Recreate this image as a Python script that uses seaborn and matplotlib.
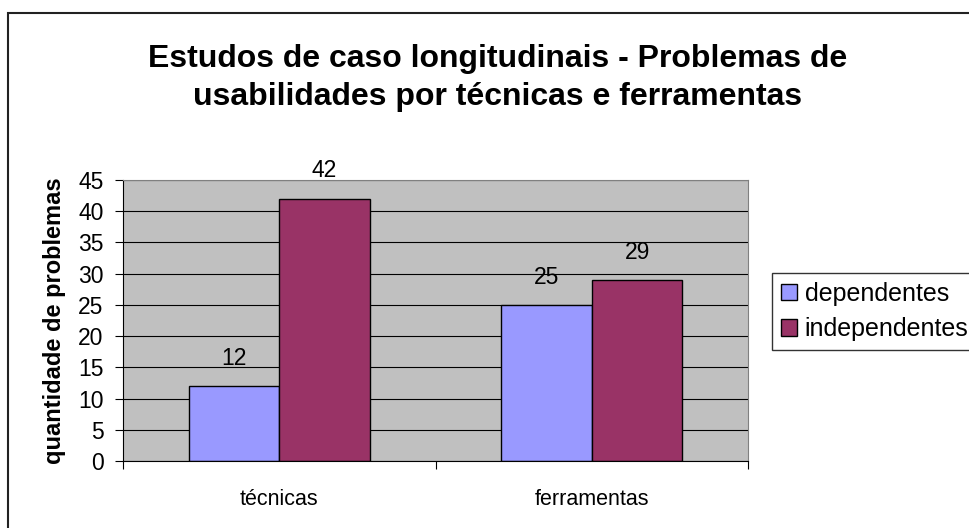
import pandas as pd
import matplotlib.pyplot as plt
import matplotlib.patches as mpatches
import seaborn as sns

# ── Data ─────────────────────────────────────────────────────────────────────
categorias = ['técnicas', 'ferramentas']
grupos = ['dependentes', 'independentes']
dependentes = [12, 25]
independentes = [42, 29]
y_ticks = [0, 5, 10, 15, 20, 25, 30, 35, 40, 45]

titulo = 'Estudos de caso longitudinais - Problemas de\nusabilidades por técnicas e ferramentas'
y_label = 'quantidade de problemas'

df = pd.DataFrame({
    'categoria': categorias * 2,
    'grupo': [grupos[0]] * len(categorias) + [grupos[1]] * len(categorias),
    'quantidade': dependentes + independentes,
})

# ── Styling ──────────────────────────────────────────────────────────────────
sns.set_style("white")
plt.rcParams.update({
    'font.family': ['Liberation Sans', 'DejaVu Sans'],
    'text.color': 'black',
    'axes.labelcolor': 'black',
    'xtick.color': 'black',
    'ytick.color': 'black',
})

CORES = ['#9999FF', '#993366']

fig = plt.figure(figsize=(9.69, 5.28), dpi=100)
# outer chart border (only left/top edge visible in the crop)
fig.patches.append(mpatches.Rectangle((8 / 969, -0.05), 1.1, 1 - 13 / 528 + 0.05,
                                      transform=fig.transFigure, fill=False,
                                      edgecolor='#222222', linewidth=1.5))

ax = fig.add_axes([123 / 969, 1 - 461 / 528, (748 - 123) / 969, (461 - 180) / 528])
ax.set_facecolor('#C0C0C0')

sns.barplot(data=df, x='categoria', y='quantidade', hue='grupo', order=categorias,
            hue_order=grupos, palette=CORES, saturation=1, width=0.58, gap=0,
            edgecolor='black', linewidth=1, ax=ax, legend=True)

# value labels
for cont in ax.containers:
    for bar in cont:
        h = bar.get_height()
        ax.annotate(f'{h:.0f}', (bar.get_x() + bar.get_width() / 2, h),
                    xytext=(0, 20), textcoords='offset points',
                    ha='center', va='center', fontsize=16.5)

ax.set_xlim(-0.5, 1.5)
ax.set_ylim(0, 45)
ax.set_yticks(y_ticks)
ax.yaxis.grid(True, color='black', linewidth=0.8)
ax.set_axisbelow(True)
ax.tick_params(axis='y', direction='out', length=6, width=0.8, pad=8,
               labelsize=16.5, left=True)

# category boundaries as major ticks, labels on minor ticks
ax.set_xticks([-0.5, 0.5, 1.5])
ax.set_xticklabels([])
ax.set_xticks([0, 1], minor=True)
ax.set_xticklabels(categorias, minor=True)
ax.tick_params(axis='x', which='major', direction='out', length=6, width=0.8,
               bottom=True)
ax.tick_params(axis='x', which='minor', length=0, pad=20, labelsize=15.5)

ax.set_xlabel('')
ax.set_ylabel(y_label, fontsize=17, fontweight='bold', labelpad=9)

for side in ['top', 'right']:
    ax.spines[side].set_color('#808080')
    ax.spines[side].set_linewidth(0.8)
for side in ['left', 'bottom']:
    ax.spines[side].set_color('black')
    ax.spines[side].set_linewidth(0.8)

fig.text(498 / 969, 1 - 78 / 528, titulo, ha='center', va='center',
         fontsize=23, fontweight='bold', linespacing=1.35)

handles, labels = ax.get_legend_handles_labels()
ax.get_legend().remove()
leg = fig.legend(handles, labels, loc='upper left',
                 bbox_to_anchor=(772 / 969, 1 - 273 / 528),
                 bbox_transform=fig.transFigure, fontsize=18, frameon=True,
                 fancybox=False, edgecolor='black', handlelength=0.65,
                 handleheight=0.65, handletextpad=0.3, labelspacing=0.45,
                 borderpad=0.35, borderaxespad=0)
leg.get_frame().set_linewidth(1)

plt.savefig('out.png', dpi=100)
plt.close()
